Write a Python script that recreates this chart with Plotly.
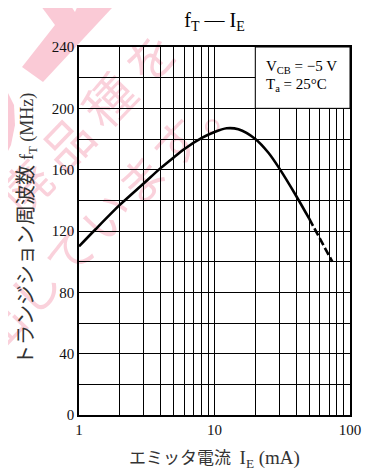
import math
import plotly.graph_objects as go

# ---- data ----
ie_solid = [1.0, 1.32, 2.0, 3.0, 4.0, 5.0, 6.0, 8.0, 10.0, 12.3, 15.0, 20.0, 25.0, 30.0, 40.0, 50.0]
ft_solid = [110, 121, 137, 151, 161, 168, 173.5, 180.5, 184.6, 187, 186.3, 180, 171, 161, 143, 128]
ie_dash = [50.0, 60.0, 74.0]
ft_dash = [128, 114.5, 100]

x_grid = [1, 2, 3, 4, 5, 6, 7, 8, 9, 10, 20, 30, 40, 50, 60, 70, 80, 90, 100]
x_labels = {1: "1", 10: "10", 100: "100"}
y_grid = list(range(0, 241, 20))
y_labels = {v: str(v) for v in range(0, 241, 40)}

title_text = "f<sub>T</sub> — I<sub>E</sub>"
x_title = ("エミッタ電流  <span style='font-size:19px'>I<sub>E</sub> (mA)</span>")
y_title = ("トランジション周波数 <span style='font-size:18px'>f<sub>T</sub> (MHz)</span>")
cond_lines = ["V<sub>CB</sub> = −5 V", "T<sub>a</sub> = 25°C"]
wm_upper = "\u2009".join("廃品種を")
wm_lower = "\u200a".join("出しています。")

# page (browser) geometry; the page body has an 8px margin
OFF = 8
PAGE_W, PAGE_H = 376, 471
PL, PT, PR, PB = 79, 47, 350, 415          # plot area in page pixels
W, H = PAGE_W - OFF, PAGE_H - OFF
PW, PH = PR - PL, PB - PT

SERIF = "Liberation Serif, Noto Sans CJK JP, serif"


def px(xp, yp):
    """page pixel -> paper coordinates"""
    return (xp - PL) / PW, (PB - yp) / PH


fig = go.Figure()
fig.add_trace(go.Scatter(x=ie_solid, y=ft_solid, mode="lines",
                         line=dict(color="black", width=2.6, shape="spline", smoothing=0.8),
                         hoverinfo="skip", showlegend=False))
fig.add_trace(go.Scatter(x=ie_dash, y=ft_dash, mode="lines",
                         line=dict(color="black", width=2.6, dash="8px,3px"),
                         hoverinfo="skip", showlegend=False))

pink = "rgba(240,80,120,0.30)"
pink_txt = "rgba(235,70,110,0.25)"

# decorative watermark shapes (top-left)
poly = [(32, -6), (63, -6), (75, 12), (83, -6), (125, -6), (43, 82), (22, 67), (55, 25)]
path = "M " + " L ".join(f"{px(a, b)[0]:.4f},{px(a, b)[1]:.4f}" for a, b in poly) + " Z"
fig.add_shape(type="path", path=path, xref="paper", yref="paper",
              fillcolor=pink, line=dict(width=0), layer="below")
blob = [(-5, 88), (8, 93), (14, 105), (15, 125), (11, 145), (5, 157), (-5, 160)]
path2 = "M " + " L ".join(f"{px(a, b)[0]:.4f},{px(a, b)[1]:.4f}" for a, b in blob) + " Z"
fig.add_shape(type="path", path=path2, xref="paper", yref="paper",
              fillcolor=pink, line=dict(width=0), layer="below")

# watermark text as shape labels (drawn beneath the grid)
for txt, (cx, cy), size in [(wm_upper, (92, 126), 50), (wm_lower, (110, 220), 48)]:
    pxc, pyc = px(cx, cy)
    fig.add_shape(type="rect", xref="paper", yref="paper",
                  x0=pxc - 0.01, x1=pxc + 0.01, y0=pyc - 0.01, y1=pyc + 0.01,
                  line=dict(width=0), fillcolor="rgba(0,0,0,0)", layer="below",
                  label=dict(text=txt, textangle=-46, textposition="middle center",
                             font=dict(family="Noto Sans CJK JP", size=size, color=pink_txt)))

# condition box
fig.add_shape(type="rect", xref="paper", yref="paper",
              x0=math.log10(20) / 2, x1=1, y0=200 / 240, y1=1,
              fillcolor="white", line=dict(color="black", width=1), layer="above")
for i, t in enumerate(cond_lines):
    ax_, ay_ = px(264, 67 + 18 * i)
    fig.add_annotation(text=t, xref="paper", yref="paper", x=ax_, y=ay_,
                       xanchor="left", yanchor="middle", showarrow=False,
                       font=dict(family=SERIF, size=15, color="black"))

# y-axis title placed as a rotated annotation
yt_x, yt_y = px(27, 229)
fig.add_annotation(text=y_title, xref="paper", yref="paper", x=yt_x, y=yt_y,
                   xanchor="center", yanchor="middle", showarrow=False, textangle=-90,
                   font=dict(family=SERIF, size=20, color="#333"))

fig.update_layout(
    width=W, height=H,
    margin=dict(l=PL - OFF, r=PAGE_W - PR, t=PT - OFF, b=PAGE_H - PB),
    paper_bgcolor="white", plot_bgcolor="rgba(0,0,0,0)",
    title=dict(text=title_text, x=0.5, xref="paper", y=1 - (20 - OFF) / H, yref="container",
               xanchor="center", yanchor="middle",
               font=dict(family=SERIF, size=20, color="black")),
    font=dict(family=SERIF, color="black"),
)
fig.update_xaxes(type="log", range=[0, 2],
                 tickvals=x_grid, ticktext=[x_labels.get(v, "") for v in x_grid],
                 showgrid=True, gridcolor="black", gridwidth=1,
                 showline=True, linecolor="black", linewidth=1.5, mirror=True,
                 ticks="", tickfont=dict(family=SERIF, size=15, color="#111"),
                 title=dict(text=x_title, font=dict(family=SERIF, size=17, color="#333"),
                            standoff=15),
                 automargin=False, zeroline=False, fixedrange=True)
fig.update_yaxes(range=[0, 240],
                 tickvals=y_grid, ticktext=[y_labels.get(v, "") for v in y_grid],
                 showgrid=True, gridcolor="black", gridwidth=1,
                 showline=True, linecolor="black", linewidth=1.5, mirror=True,
                 ticks="", tickfont=dict(family=SERIF, size=15, color="#111"),
                 automargin=False, zeroline=False, fixedrange=True)

fig.write_html("out.html")
